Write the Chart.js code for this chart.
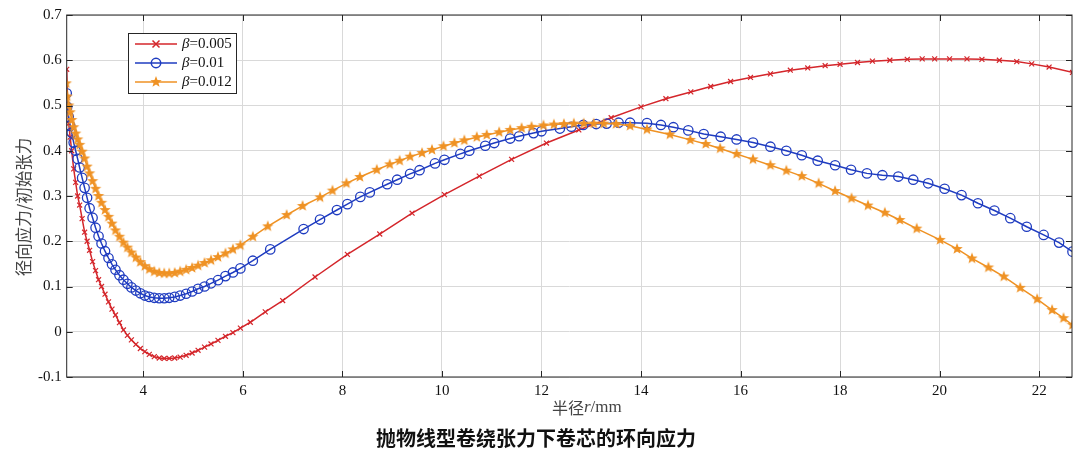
<!DOCTYPE html>
<html>
<head>
<meta charset="utf-8">
<script src="https://cdn.jsdelivr.net/npm/chart.js@4"></script>
<style>
  body { margin: 0; background: #fff; }
  #wrap { width: 1080px; height: 459px; position: relative; }
</style>
</head>
<body>
<div id="wrap"><canvas id="stress-chart"></canvas></div>
<script>
// radius r (mm) and hoop stress / initial tension
const redX = [2.46, 2.48, 2.50, 2.53, 2.56, 2.60, 2.64, 2.68, 2.72, 2.77, 2.82, 2.87, 2.92, 2.98, 3.04, 3.10, 3.16, 3.23, 3.30, 3.37,
  3.44, 3.52, 3.60, 3.68, 3.76, 3.85, 3.94, 4.03, 4.12, 4.22, 4.32, 4.42, 4.52, 4.63, 4.74, 4.86, 4.98, 5.10, 5.23, 5.36,
  5.50, 5.65, 5.80, 5.95, 6.15, 6.45, 6.80, 7.45, 8.10, 8.75, 9.40, 10.05, 10.75, 11.40, 12.10, 12.75, 13.40, 14.00, 14.50, 15.00,
  15.40, 15.80, 16.20, 16.60, 17.00, 17.35, 17.70, 18.00, 18.35, 18.65, 19.00, 19.35, 19.65, 19.90, 20.20, 20.55, 20.85, 21.20, 21.55, 21.85,
  22.20, 22.67];
const redY = [0.58, 0.50, 0.46, 0.43, 0.40, 0.36, 0.33, 0.30, 0.28, 0.25, 0.22, 0.20, 0.18, 0.155, 0.135, 0.115, 0.100, 0.083, 0.066, 0.050,
  0.037, 0.020, 0.004, -0.008, -0.018, -0.028, -0.037, -0.044, -0.050, -0.055, -0.058, -0.059, -0.059, -0.058, -0.056, -0.052, -0.047, -0.041, -0.034, -0.027,
  -0.019, -0.010, -0.002, 0.008, 0.021, 0.044, 0.069, 0.121, 0.171, 0.216, 0.262, 0.303, 0.344, 0.381, 0.417, 0.446, 0.473, 0.497, 0.515, 0.530,
  0.542, 0.553, 0.562, 0.570, 0.578, 0.583, 0.588, 0.591, 0.595, 0.598, 0.600, 0.602, 0.603, 0.603, 0.603, 0.603, 0.602, 0.600, 0.597, 0.592,
  0.585, 0.573];

const blueX = [2.46, 2.47, 2.50, 2.53, 2.56, 2.60, 2.64, 2.68, 2.72, 2.77, 2.82, 2.87, 2.92, 2.98, 3.04, 3.10, 3.16, 3.23, 3.30, 3.37,
  3.44, 3.52, 3.60, 3.68, 3.76, 3.85, 3.94, 4.03, 4.12, 4.22, 4.32, 4.42, 4.52, 4.63, 4.74, 4.86, 4.98, 5.10, 5.23, 5.36,
  5.50, 5.65, 5.80, 5.95, 6.20, 6.55, 7.22, 7.55, 7.89, 8.10, 8.36, 8.55, 8.90, 9.10, 9.36, 9.55, 9.86, 10.05, 10.37, 10.55,
  10.87, 11.05, 11.37, 11.55, 11.84, 12.00, 12.37, 12.60, 12.84, 13.10, 13.31, 13.55, 13.78, 14.12, 14.40, 14.65, 14.95, 15.26, 15.60, 15.92,
  16.25, 16.60, 16.92, 17.23, 17.55, 17.90, 18.22, 18.54, 18.85, 19.17, 19.47, 19.77, 20.10, 20.44, 20.77, 21.10, 21.42, 21.75, 22.09, 22.40,
  22.67];
const blueY = [0.527, 0.497, 0.475, 0.455, 0.440, 0.418, 0.400, 0.382, 0.363, 0.340, 0.318, 0.296, 0.273, 0.252, 0.230, 0.211, 0.195, 0.178, 0.163, 0.149,
  0.137, 0.125, 0.115, 0.106, 0.098, 0.091, 0.085, 0.080, 0.077, 0.075, 0.074, 0.074, 0.075, 0.077, 0.080, 0.084, 0.089, 0.095, 0.100, 0.107,
  0.114, 0.123, 0.131, 0.140, 0.157, 0.182, 0.227, 0.248, 0.269, 0.282, 0.298, 0.308, 0.326, 0.336, 0.349, 0.357, 0.372, 0.380, 0.393, 0.400,
  0.411, 0.417, 0.427, 0.432, 0.439, 0.443, 0.449, 0.453, 0.457, 0.459, 0.460, 0.462, 0.462, 0.461, 0.457, 0.452, 0.445, 0.437, 0.431, 0.425,
  0.418, 0.409, 0.400, 0.390, 0.378, 0.368, 0.358, 0.350, 0.346, 0.343, 0.336, 0.328, 0.316, 0.302, 0.284, 0.268, 0.251, 0.232, 0.214, 0.197,
  0.177];

const orangeX = [2.45, 2.47, 2.50, 2.53, 2.56, 2.60, 2.64, 2.68, 2.72, 2.77, 2.82, 2.87, 2.92, 2.98, 3.04, 3.10, 3.16, 3.23, 3.30, 3.37,
  3.44, 3.52, 3.60, 3.68, 3.76, 3.85, 3.94, 4.03, 4.12, 4.22, 4.32, 4.42, 4.52, 4.63, 4.74, 4.86, 4.98, 5.10, 5.23, 5.36,
  5.50, 5.65, 5.80, 5.95, 6.20, 6.50, 6.88, 7.20, 7.55, 7.80, 8.08, 8.35, 8.69, 8.95, 9.15, 9.36, 9.60, 9.80, 10.03, 10.25,
  10.45, 10.70, 10.90, 11.15, 11.37, 11.60, 11.80, 12.04, 12.25, 12.45, 12.65, 12.85, 13.05, 13.25, 13.50, 13.78, 14.12, 14.58, 14.99, 15.30,
  15.59, 15.92, 16.25, 16.60, 16.92, 17.23, 17.57, 17.90, 18.23, 18.56, 18.90, 19.20, 19.54, 20.01, 20.35, 20.65, 20.98, 21.29, 21.62, 21.96,
  22.26, 22.49, 22.67];
const orangeY = [0.549, 0.520, 0.500, 0.485, 0.468, 0.452, 0.438, 0.425, 0.413, 0.398, 0.383, 0.365, 0.350, 0.333, 0.316, 0.300, 0.285, 0.269, 0.254, 0.239,
  0.224, 0.210, 0.197, 0.186, 0.175, 0.164, 0.154, 0.145, 0.138, 0.133, 0.130, 0.129, 0.129, 0.130, 0.133, 0.137, 0.141, 0.146, 0.152, 0.158,
  0.165, 0.173, 0.182, 0.191, 0.210, 0.233, 0.258, 0.278, 0.297, 0.312, 0.328, 0.342, 0.358, 0.370, 0.378, 0.387, 0.395, 0.402, 0.410, 0.417,
  0.423, 0.430, 0.435, 0.441, 0.446, 0.450, 0.453, 0.456, 0.458, 0.459, 0.460, 0.460, 0.460, 0.460, 0.459, 0.455, 0.447, 0.436, 0.424, 0.415,
  0.405, 0.393, 0.381, 0.368, 0.356, 0.344, 0.328, 0.311, 0.295, 0.279, 0.263, 0.247, 0.228, 0.203, 0.183, 0.162, 0.142, 0.122, 0.097, 0.072,
  0.048, 0.030, 0.015];

const seriesNames = ["0.005", "0.01", "0.012"];
const xTicks = [4, 6, 8, 10, 12, 14, 16, 18, 20, 22];
const yTicks = [-0.1, 0, 0.1, 0.2, 0.3, 0.4, 0.5, 0.6, 0.7];

const RED = "#d4262b", BLUE = "#1f3cc0", ORANGE = "#ef9224";
const serif = "'Liberation Serif', 'DejaVu Serif', serif";
const cjk = "'Noto Sans CJK SC', sans-serif";

function toPoints(xs, ys) {
    return xs.map(function(x, i){ return {x : x, y : ys[i]}; });
}

// filled pentagram marker, the built-in 'star' is only stroked
function makeStar(r, color) {
    const c = document.createElement("canvas");
    c.width = c.height = Math.ceil(r * 2 + 2);
    const g = c.getContext("2d");
    const cx = c.width / 2, cy = c.height / 2;
    g.beginPath();
    for (let i = 0; i < 10; i++) {
        const rr = i % 2 === 0 ? r : r * 0.42;
        const a = -Math.PI / 2 + i * Math.PI / 5;
        g.lineTo(cx + rr * Math.cos(a), cy + rr * Math.sin(a));
    }
    g.closePath();
    g.fillStyle = color;
    g.fill();
    return c;
}
const starImg = makeStar(6, ORANGE);

// draws consecutive pieces of text with their own fonts
function drawRuns(ctx, runs, x, y) {
    runs.forEach(function(r){
        ctx.font = r[1];
        ctx.fillText(r[0], x, y);
        x += ctx.measureText(r[0]).width;
    });
}

// matlab-like box with inward ticks, axis titles and the legend
const boxPlugin = {
    id : "box",
    afterDatasetsDraw(chart) {
        const ctx = chart.ctx, a = chart.chartArea;
        const xs = chart.scales.x, ys = chart.scales.y;
        ctx.save();
        ctx.strokeStyle = "#262626";
        ctx.lineWidth = 1;
        ctx.strokeRect(a.left, a.top, a.right - a.left, a.bottom - a.top);
        ctx.beginPath();
        xTicks.forEach(function(v){
            const px = Math.round(xs.getPixelForValue(v)) + 0.5;
            ctx.moveTo(px, a.bottom); ctx.lineTo(px, a.bottom - 6);
            ctx.moveTo(px, a.top); ctx.lineTo(px, a.top + 6);
        });
        yTicks.forEach(function(v){
            const py = Math.round(ys.getPixelForValue(v)) + 0.5;
            ctx.moveTo(a.left, py); ctx.lineTo(a.left + 6, py);
            ctx.moveTo(a.right, py); ctx.lineTo(a.right - 6, py);
        });
        ctx.stroke();

        // axis titles
        ctx.fillStyle = "#444";
        ctx.textBaseline = "middle";
        drawRuns(ctx, [["半径", "16px " + cjk], ["r", "italic 17px " + serif], ["/mm", "17px " + serif]], 552, 408);
        ctx.save();
        ctx.translate(24, 207);
        ctx.rotate(-Math.PI / 2);
        ctx.textAlign = "center";
        ctx.font = "16.5px " + cjk;
        ctx.fillText("径向应力/初始张力", 0, 0);
        ctx.restore();

        // legend
        const lx = 128, ly = 33, lw = 108, lh = 60;
        ctx.fillStyle = "#fff";
        ctx.fillRect(lx, ly, lw, lh);
        ctx.strokeStyle = "#262626";
        ctx.strokeRect(lx + 0.5, ly + 0.5, lw, lh);
        const colors = [RED, BLUE, ORANGE];
        colors.forEach(function(col, i){
            const y = ly + 11 + i * 19;
            ctx.strokeStyle = col;
            ctx.lineWidth = 1.5;
            ctx.beginPath();
            ctx.moveTo(lx + 7, y); ctx.lineTo(lx + 49, y);
            ctx.stroke();
            const mx = lx + 28;
            ctx.beginPath();
            if (i === 0) {
                ctx.moveTo(mx - 3.5, y - 3.5); ctx.lineTo(mx + 3.5, y + 3.5);
                ctx.moveTo(mx + 3.5, y - 3.5); ctx.lineTo(mx - 3.5, y + 3.5);
                ctx.stroke();
            } else if (i === 1) {
                ctx.arc(mx, y, 4.7, 0, Math.PI * 2);
                ctx.stroke();
            } else {
                ctx.drawImage(starImg, mx - starImg.width / 2, y - starImg.height / 2);
            }
            ctx.fillStyle = "#111";
            drawRuns(ctx, [["β", "italic 15px " + serif], ["=" + seriesNames[i], "15px " + serif]], lx + 54, y);
        });
        ctx.restore();
    }
};

new Chart(document.getElementById("stress-chart"), {
    type : "line",
    data : {
        datasets : [
            {
                label : "β=" + seriesNames[0],
                data : toPoints(redX, redY),
                borderColor : RED,
                borderWidth : 1.5,
                pointStyle : "crossRot",
                pointRadius : 3.5,
                pointBorderColor : RED,
                pointBorderWidth : 1.2,
                fill : false,
                order : 3
            },
            {
                label : "β=" + seriesNames[1],
                data : toPoints(blueX, blueY),
                borderColor : BLUE,
                borderWidth : 1.5,
                pointStyle : "circle",
                pointRadius : 4.7,
                pointBorderColor : BLUE,
                pointBackgroundColor : "rgba(0,0,0,0)",
                pointBorderWidth : 1.3,
                fill : false,
                order : 2
            },
            {
                label : "β=" + seriesNames[2],
                data : toPoints(orangeX, orangeY),
                borderColor : ORANGE,
                borderWidth : 1.5,
                pointStyle : starImg,
                fill : false,
                order : 1
            }
        ]
    },
    options : {
        responsive : true,
        maintainAspectRatio : false,
        animation : false,
        layout : { padding : { top : 15, right : 8, left : 0, bottom : 0 } },
        plugins : {
            legend : { display : false },
            tooltip : { enabled : false },
            title : {
                display : true,
                position : "bottom",
                text : "抛物线型卷绕张力下卷芯的环向应力",
                color : "#111",
                font : { family : cjk, size : 20, weight : "bold" },
                padding : { top : 6, bottom : 9 }
            }
        },
        scales : {
            x : {
                type : "linear",
                min : 2.46,
                max : 22.66,
                afterBuildTicks : function(s){ s.ticks = xTicks.map(function(v){ return {value : v}; }); },
                afterFit : function(s){ s.height = 43; },
                grid : { color : "#d9d9d9", drawTicks : false },
                border : { display : false },
                ticks : { color : "#111", padding : 5, font : { family : serif, size : 15 } }
            },
            y : {
                min : -0.1,
                max : 0.7,
                afterBuildTicks : function(s){ s.ticks = yTicks.map(function(v){ return {value : v}; }); },
                afterFit : function(s){ s.width = 66.7; },
                grid : { color : "#d9d9d9", drawTicks : false },
                border : { display : false },
                ticks : {
                    color : "#111",
                    padding : 5,
                    font : { family : serif, size : 15 },
                    callback : function(v){ return Math.abs(v) < 1e-9 ? "0" : String(Math.round(v * 10) / 10); }
                }
            }
        }
    },
    plugins : [boxPlugin]
});
</script>
</body>
</html>
